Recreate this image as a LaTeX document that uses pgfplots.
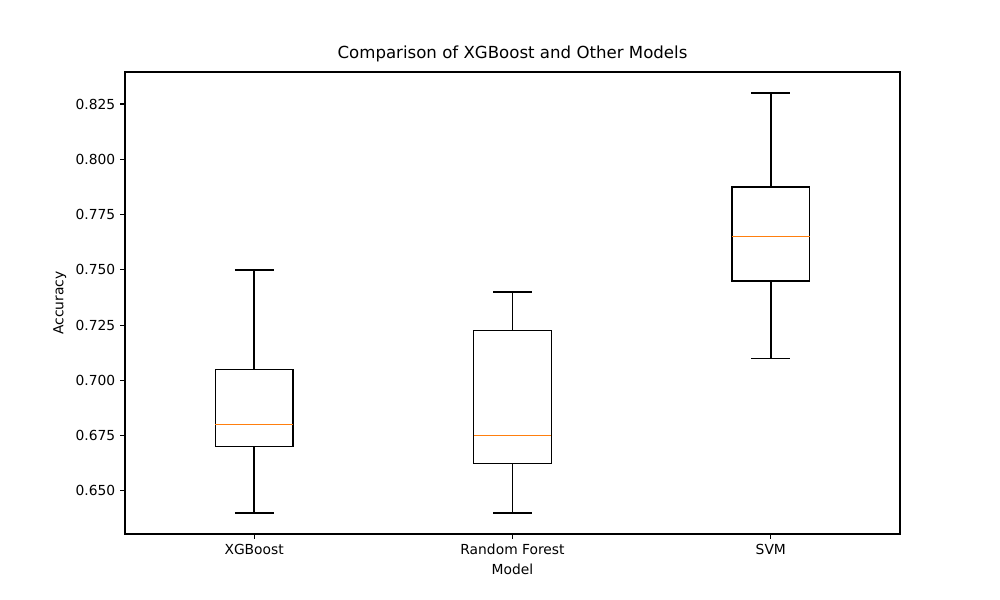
\documentclass[border=0pt]{standalone}
\usepackage{fontspec}
\setmainfont{DejaVu Sans}
\usepackage{pgfplots}
\pgfplotsset{compat=1.18}
\usepgfplotslibrary{statistics}
\definecolor{mplorange}{HTML}{FF7F0E}
\begin{document}
\fontsize{10pt}{12pt}\selectfont
\begin{tikzpicture}
\begin{axis}[
  scale only axis,
  width=7.75in, height=4.62in,
  xmin=0.5, xmax=3.5,
  ymin=0.6305, ymax=0.8395,
  xtick={1,2,3},
  xticklabels={XGBoost, Random Forest, SVM},
  ytick={0.650,0.675,0.700,0.725,0.750,0.775,0.800,0.825},
  /pgf/number format/assume math mode=true,
  yticklabel style={/pgf/number format/.cd, fixed, fixed zerofill, precision=3},
  tick align=outside,
  major tick length=3.5pt,
  xtick pos=bottom, ytick pos=left,
  tick style={black, line width=0.8pt},
  axis line style={line width=0.8pt},
  title={Comparison of XGBoost and Other Models},
  title style={font=\fontsize{12pt}{14pt}\selectfont, yshift=-2pt},
  xlabel={Model}, ylabel={Accuracy},
  ticklabel style={font=\fontsize{10pt}{12pt}\selectfont},
  boxplot/draw direction=y,
  boxplot/box extend=0.3,
  boxplot/whisker extend=0.15,
  boxplot/every median/.style={draw=mplorange, line width=1pt},
]
\addplot[black, line width=1pt, boxplot prepared={
  lower whisker=0.64, lower quartile=0.67, median=0.68,
  upper quartile=0.705, upper whisker=0.75, draw position=1}]
  coordinates {};
\addplot[black, line width=1pt, boxplot prepared={
  lower whisker=0.64, lower quartile=0.6625, median=0.675,
  upper quartile=0.7225, upper whisker=0.74, draw position=2}]
  coordinates {};
\addplot[black, line width=1pt, boxplot prepared={
  lower whisker=0.71, lower quartile=0.745, median=0.765,
  upper quartile=0.7875, upper whisker=0.83, draw position=3}]
  coordinates {};
\end{axis}
\path[use as bounding box] ([shift={(-1.25in,-0.66in)}]current axis.south west) rectangle ([shift={(1in,0.72in)}]current axis.north east);
\end{tikzpicture}
\end{document}
